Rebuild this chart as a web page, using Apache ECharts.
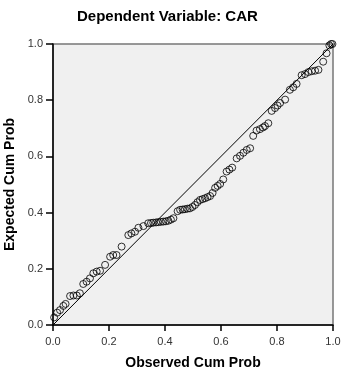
<!DOCTYPE html>
<html>
<head>
<meta charset="utf-8">
<script src="https://cdn.jsdelivr.net/npm/echarts@6/dist/echarts.min.js"></script>
<style>
  html, body { margin: 0; padding: 0; background: #fff; }
  #chart { width: 344px; height: 369px; }
</style>
</head>
<body>
<div id="chart"></div>
<script>
// observed cum prob (x) / expected cum prob (y)
const observed = [
  0.004, 0.015, 0.025, 0.037, 0.045, 0.061, 0.073, 0.085, 0.096, 0.108,
  0.120, 0.132, 0.144, 0.156, 0.168, 0.186, 0.204, 0.215, 0.227, 0.245,
  0.269, 0.280, 0.293, 0.305, 0.323, 0.340, 0.350, 0.358, 0.368, 0.376,
  0.385, 0.394, 0.403, 0.412, 0.421, 0.430, 0.445, 0.454, 0.463, 0.471,
  0.480, 0.489, 0.498, 0.507, 0.516, 0.525, 0.534, 0.543, 0.552, 0.561,
  0.570, 0.579, 0.588, 0.597, 0.608, 0.620, 0.630, 0.640, 0.656, 0.668,
  0.680, 0.692, 0.704, 0.715, 0.727, 0.739, 0.750, 0.757, 0.769, 0.781,
  0.793, 0.802, 0.811, 0.829, 0.846, 0.858, 0.870, 0.888, 0.900, 0.912,
  0.924, 0.936, 0.948, 0.965, 0.977, 0.987, 0.993, 0.998
];
const expected = [
  0.027, 0.044, 0.053, 0.068, 0.075, 0.103, 0.105, 0.105, 0.113, 0.146,
  0.154, 0.166, 0.184, 0.190, 0.193, 0.214, 0.243, 0.249, 0.249, 0.279,
  0.320, 0.326, 0.332, 0.346, 0.352, 0.362, 0.363, 0.364, 0.365, 0.366,
  0.367, 0.368, 0.369, 0.371, 0.375, 0.380, 0.405, 0.410, 0.411, 0.412,
  0.414, 0.415, 0.420, 0.427, 0.437, 0.445, 0.448, 0.451, 0.455, 0.459,
  0.470, 0.488, 0.495, 0.502, 0.518, 0.546, 0.553, 0.560, 0.593, 0.602,
  0.613, 0.623, 0.629, 0.673, 0.692, 0.697, 0.703, 0.708, 0.718, 0.762,
  0.772, 0.781, 0.790, 0.802, 0.837, 0.846, 0.858, 0.889, 0.893, 0.900,
  0.903, 0.905, 0.908, 0.937, 0.967, 0.995, 1.000, 1.000
];
const diagonal = [[0, 0], [1, 1]];
const titleText = 'Dependent Variable: CAR';
const xName = 'Observed Cum Prob';
const yName = 'Expected Cum Prob';

const points = observed.map((x, i) => [x, expected[i]]);

var myChart = echarts.init(document.getElementById('chart'));
const font = 'Liberation Sans, Arial, sans-serif';
const axisCommon = {
  type: 'value',
  min: 0,
  max: 1,
  interval: 0.2,
  nameLocation: 'middle',
  nameTextStyle: { fontFamily: font, fontSize: 14, fontWeight: 'bold', color: '#000' },
  axisLine: { show: true, onZero: false, lineStyle: { color: '#000', width: 1.5 } },
  axisTick: { show: true, length: 6, lineStyle: { color: '#000', width: 1.5 } },
  axisLabel: {
    fontFamily: font, fontSize: 11, color: '#333',
    formatter: v => v.toFixed(1)
  },
  splitLine: { show: false }
};

myChart.setOption({
  animation: false,
  backgroundColor: '#fff',
  title: {
    text: titleText,
    left: 77,
    top: 9,
    padding: 0,
    textStyle: { fontFamily: font, fontSize: 15, fontWeight: 'bold', color: '#000' }
  },
  grid: {
    left: 53, right: 11, top: 44, bottom: 44,
    outerBoundsMode: 'none',
    containLabel: false,
    show: true,
    backgroundColor: '#f0f0f0',
    borderColor: '#777',
    borderWidth: 1.5
  },
  xAxis: Object.assign({}, axisCommon, {
    name: xName,
    nameGap: 31,
    axisLabel: Object.assign({}, axisCommon.axisLabel, { margin: 11 })
  }),
  yAxis: Object.assign({}, axisCommon, {
    name: yName,
    nameGap: 28,
    axisTick: { show: true, length: 7, lineStyle: { color: '#000', width: 1.5 } },
    axisLabel: Object.assign({}, axisCommon.axisLabel, { margin: 10 })
  }),
  series: [
    {
      type: 'line',
      data: diagonal,
      symbol: 'none',
      lineStyle: { color: '#000', width: 1 },
      z: 2
    },
    {
      type: 'scatter',
      data: points,
      symbol: 'circle',
      symbolSize: 7,
      itemStyle: { color: 'transparent', borderColor: '#000', borderWidth: 1 },
      z: 3
    }
  ]
});
</script>
</body>
</html>
